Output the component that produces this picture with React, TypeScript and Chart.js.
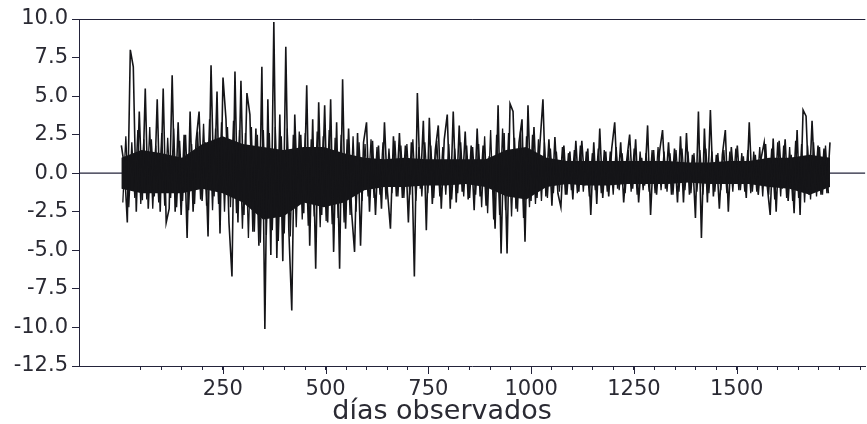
import React, { useEffect, useRef } from "react";
import { Chart, registerables } from "chart.js";

Chart.register(...registerables);

// ---- data ----
const X_MIN = -100;
const X_MAX = 1813;
const FIRST_DAY = 3;
const LAST_DAY = 1727;
const X_TITLE = "días observados";

const yTickValues = [-12.5, -10, -7.5, -5, -2.5, 0, 2.5, 5, 7.5, 10];
const xLabelTicks = [250, 500, 750, 1000, 1250, 1500];
const xMinorStep = 50;
const xMinorFirst = 50;
const xMinorLast = 1800;

// local extremes of the daily series, read left to right
const spikeValues = [
  1.8, 0.5, -3.2, 8.0, 6.9, -2.5, 4.0, -1.75, 5.5, -2.3,
  2.2, -1.5, 4.8, -2.5, 5.5, -3.2, -2.3, 6.35, -2.5, 3.3,
  -2.7, 2.5, -4.2, 4.0, -2.5, 2.1, 4.0, -1.8, 2.0, -4.1,
  7.0, -1.5, 5.3, -3.9, 6.2, 3.5, -3.2, -6.7, 6.6, -3.2,
  6.0, -2.7, 5.2, 3.8, -3.8, 2.9, -4.7, 6.9, -10.1, 4.8,
  -5.3, 9.8, -5.5, 3.8, -5.7, 8.2, -3.6, -8.9, 3.8, -2.0,
  2.5, -2.6, 5.7, -4.7, 3.5, -6.2, 4.6, -2.7, 4.4, -3.2,
  4.8, -5.1, 3.3, -6.2, 6.1, -3.6, 2.9, -2.5, -5.1, 2.6,
  -4.7, 2.0, 3.3, -2.5, 2.1, -2.7, 1.8, -2.3, 3.3, -1.2,
  -3.6, 2.4, -1.5, 2.6, -1.6, 1.8, -3.2, 2.0, -6.7, 5.2,
  -1.0, 3.4, -3.7, 3.6, -2.0, 1.5, 3.1, -2.3, 2.2, 3.8,
  -2.3, 4.0, -1.9, 3.1, -1.2, 2.7, -1.7, 1.8, -2.4, 2.9,
  -1.5, 1.8, -2.1, 1.0, 0.8, -3.6, 4.4, -5.2, 2.6, -5.2,
  4.5, 4.0, -2.3, 2.0, 3.5, -4.45, 4.4, -1.8, 3.0, -1.6,
  1.9, 4.8, -1.5, 2.2, -2.1, 2.35, -1.3, -2.2, 1.8, -1.4,
  1.4, -1.7, 2.1, -1.2, 2.1, -0.8, 1.6, -2.7, 2.0, -2.0,
  2.9, -1.6, 1.4, -1.5, 1.6, 3.3, -1.0, 2.0, -1.9, 0.8,
  2.5, -1.0, 2.2, -1.9, 1.0, -0.8, 3.1, -2.7, 1.5, -1.4,
  1.4, 2.8, -1.0, 2.0, -1.4, 1.6, -1.9, 2.4, -1.9, 2.6,
  -1.4, 1.2, -2.9, 4.0, -4.2, 2.9, -1.9, 4.1, -1.5, 1.2,
  -2.3, 1.2, 2.8, -2.5, 1.7, -0.7, 1.8, -1.1, 1.1, -1.6,
  3.3, -1.2, 1.2, -1.4, 1.0, 2.0, -0.8, -2.7, 2.25, -2.5,
  2.1, -1.0, 2.2, -1.8, 1.2, -2.6, 2.8, -2.7, 4.1, 3.7,
  -1.4, 3.4, -1.0, 1.8, -1.4, 1.6, -1.3, 2.0,
];

// medium-size swings in between the large ones (ragged edge of the band)
const midValues = [
  -1.9, 2.4, -2.2, 2.0, -1.6, 2.8, -2.0, 2.2, -1.7, 3.0,
  -2.3, 1.8, -1.9, 2.6, -2.1, 2.3, -1.6, 2.9, -2.2, 2.1,
  -1.8, 2.5, -2.4, 1.9, -2.0, 2.7, -1.7,
  3.2, -2.1, 3.5, -2.4, 2.9, -2.0, 3.3, -2.5, 3.0, -2.2,
  3.4, -2.6, 2.8,
  -3.6, 2.6, -4.2, 3.0, -3.8, 2.5, -4.5, 2.8, -4.0, 2.6,
  -3.7, 3.0, -4.4, 2.4, -3.9, 2.9, -4.1, 2.5, -3.5, 2.7,
  -3.0, 2.6, -3.4, 2.2, -2.8, 2.7, -3.5, 2.4, -3.1, 2.8,
  -3.3, 2.3, -2.9, 2.5, -3.2, 2.2, -2.7, 2.4, -2.5, 2.0,
  -1.8, 1.9, -1.5, 2.2, -1.6, 1.7, -1.4, 2.0, -1.7, 1.6,
  -1.3, 2.1, -1.5, 1.8, -1.6, 1.9, -1.4, 2.2, -1.8, 1.7,
  -1.5, 2.0, -1.3, 1.8, -1.6, 2.1, -1.5, 1.7, -1.4, 1.9,
  -1.7, 1.6, -1.3, 2.0, -1.5, 1.8, -1.6, 1.7, -1.4, 1.9,
  -2.2, 2.4, -2.6, 2.8, -3.0, 2.5, -2.7, 2.9, -2.4, 2.6,
  -2.8, 2.3, -2.5, 2.7, -2.9, 2.4, -2.2, 2.5, -2.0, 2.2,
  -1.8, 2.0, -1.6,
  1.6, -1.3, 1.4, -1.2, 1.7, -1.4, 1.3, -1.1, 1.5, -1.3,
  1.8, -1.2, 1.4, -1.5, 1.3, -1.1, 1.6, -1.3, 1.5, -1.2,
  1.4, -1.4, 1.7, -1.1, 1.3, -1.3, 1.5, -1.2, 1.6, -1.4,
  1.4, -1.1, 1.3, -1.2, 1.5, -1.3, 1.7, -1.1, 1.4, -1.2,
  1.3, -1.4, 1.5, -1.2, 1.6, -1.1, 1.4, -1.3, 1.3, -1.2,
  1.5, -1.4, 1.6, -1.3, 1.4, -1.2, 1.3, -1.1, 1.5, -1.3,
  1.4, -1.2, 1.6, -1.1, 1.3, -1.2, 1.5, -1.3, 1.4, -1.2,
  1.7, -1.5, 1.9, -1.4, 1.6, -1.7, 2.0, -1.5, 1.8, -1.6,
  1.7, -1.8, 2.1, -1.6, 1.9, -1.9, 1.8, -1.7, 2.0, -1.5,
  1.7, -1.4, 1.8, -1.3,
];

// dense core of the series (upper / lower edge of the solid band)
const coreUpper = [
  1.0, 1.5, 1.3, 1.0, 1.9, 2.4, 1.9, 1.7, 1.5, 1.7,
  1.7, 1.3, 1.0, 0.9, 1.0, 0.9, 0.9, 0.9, 0.9, 1.5,
  1.7, 1.0, 0.8, 0.8, 0.8, 0.8, 0.8, 0.8, 0.7, 0.7,
  0.8, 0.8, 1.0, 1.0, 1.2, 1.0,
];
const coreLower = [
  -1.0, -1.3, -1.3, -1.3, -1.0, -1.3, -1.9, -3.0, -2.8, -1.9,
  -2.2, -1.9, -1.1, -0.9, -0.9, -0.8, -0.8, -0.7, -0.9, -1.5,
  -1.7, -0.9, -0.7, -0.8, -0.8, -0.7, -0.7, -0.7, -0.6, -0.7,
  -0.7, -0.7, -0.9, -1.0, -1.4, -0.9,
];

const INK = "#151518";
const AXIS = "#23233a";
const TEXT = "#2a2a33";
const FONT = "DejaVu Sans";

function toPoints(vals: number[], steps: number, offset: number) {
  const step = (LAST_DAY - FIRST_DAY) / steps;
  return vals.map((v, i) => ({ x: FIRST_DAY + (i + offset) * step, y: v }));
}

function minorTicks() {
  const out: number[] = [];
  for (let v = xMinorFirst; v <= xMinorLast; v += xMinorStep) out.push(v);
  return out;
}

const decorPlugin = {
  id: "decor",
  afterDraw(chart: any) {
    const { ctx, chartArea } = chart;
    const xs = chart.scales.x;
    ctx.save();
    ctx.strokeStyle = AXIS;
    ctx.lineWidth = 1;
    ctx.beginPath();
    ctx.moveTo(chartArea.left, chartArea.top + 0.5);
    ctx.lineTo(chartArea.right, chartArea.top + 0.5);
    for (const v of xLabelTicks) {
      const px = Math.round(xs.getPixelForValue(v)) + 0.5;
      ctx.moveTo(px, chartArea.bottom);
      ctx.lineTo(px, chartArea.bottom + 8);
    }
    ctx.stroke();
    ctx.fillStyle = TEXT;
    ctx.font = `27px "${FONT}"`;
    ctx.textAlign = "center";
    ctx.textBaseline = "alphabetic";
    ctx.fillText(X_TITLE, 442, 419);
    ctx.restore();
  },
};

export default function App() {
  const ref = useRef<HTMLCanvasElement | null>(null);
  useEffect(() => {
    if (!ref.current) return;
    const n = spikeValues.length - 1;
    const chart = new Chart(ref.current, {
      type: "line",
      data: {
        datasets: [
          {
            data: toPoints(spikeValues, n, 0),
            borderColor: INK,
            borderWidth: 1.6,
            pointRadius: 0,
            tension: 0,
            fill: false,
            order: 0,
          },
          {
            data: toPoints(midValues, n, 0.5),
            borderColor: INK,
            borderWidth: 1.3,
            pointRadius: 0,
            tension: 0,
            fill: false,
            order: 0,
          },
          {
            data: toPoints(coreUpper, coreUpper.length - 1, 0),
            borderColor: INK,
            borderWidth: 0,
            backgroundColor: INK,
            pointRadius: 0,
            tension: 0,
            fill: "+1",
            order: 1,
          },
          {
            data: toPoints(coreLower, coreLower.length - 1, 0),
            borderColor: INK,
            borderWidth: 0,
            pointRadius: 0,
            tension: 0,
            fill: false,
            order: 1,
          },
          {
            data: [
              { x: X_MIN, y: 0 },
              { x: X_MAX, y: 0 },
            ],
            borderColor: AXIS,
            borderWidth: 1.3,
            pointRadius: 0,
            fill: false,
            order: 2,
          },
        ],
      },
      options: {
        animation: false,
        responsive: false,
        devicePixelRatio: 1,
        layout: { padding: { top: 19, right: 0, left: 0, bottom: 0 } },
        plugins: {
          legend: { display: false },
          tooltip: { enabled: false },
        },
        scales: {
          x: {
            type: "linear",
            min: X_MIN,
            max: X_MAX,
            afterBuildTicks: (s: any) => {
              s.ticks = minorTicks().map((v) => ({ value: v }));
            },
            afterFit: (s: any) => {
              s.height = 58;
            },
            ticks: {
              autoSkip: false,
              maxRotation: 0,
              font: { family: FONT, size: 21 },
              color: TEXT,
              padding: 7,
              callback: (v: any) => (xLabelTicks.includes(Number(v)) ? String(v) : ""),
            },
            grid: {
              drawOnChartArea: false,
              drawTicks: true,
              tickLength: 4,
              color: AXIS,
            },
            border: { display: true, color: AXIS, width: 1 },
          },
          y: {
            type: "linear",
            min: -12.5,
            max: 10,
            afterBuildTicks: (s: any) => {
              s.ticks = yTickValues.map((v) => ({ value: v }));
            },
            afterFit: (s: any) => {
              s.width = 79;
            },
            ticks: {
              font: { family: FONT, size: 21 },
              color: TEXT,
              padding: 4,
              callback: (v: any) => Number(v).toFixed(1),
            },
            grid: {
              drawOnChartArea: false,
              drawTicks: true,
              tickLength: 7,
              color: AXIS,
            },
            border: { display: true, color: AXIS, width: 1 },
          },
        },
      },
      plugins: [decorPlugin],
    });
    return () => chart.destroy();
  }, []);

  return (
    <div style={{ position: "absolute", left: 0, top: 0, width: 867, height: 424, background: "#fff" }}>
      <canvas ref={ref} width={867} height={424} style={{ display: "block", width: 867, height: 424 }} />
    </div>
  );
}
